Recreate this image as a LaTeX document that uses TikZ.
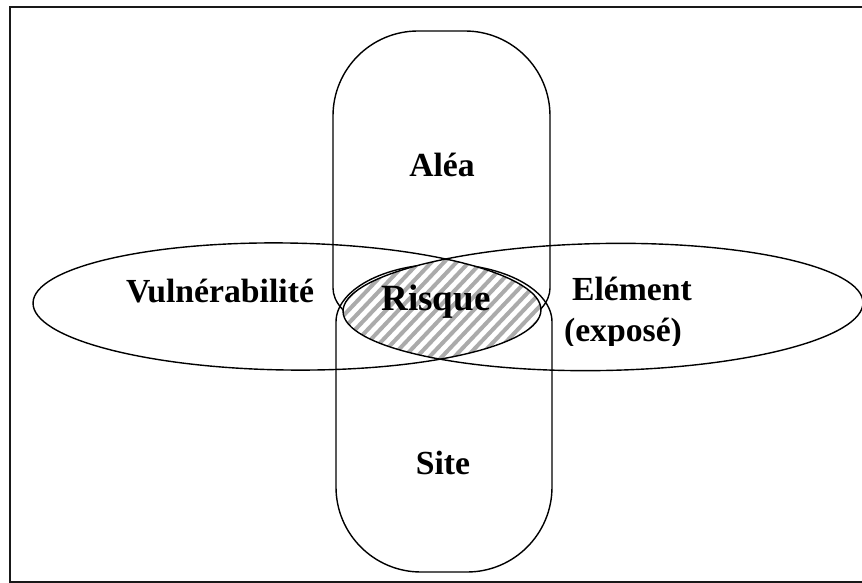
\documentclass[tikz,border=0pt]{standalone}
\usepackage{fontspec}
\setmainfont{Liberation Serif}
\tikzset{
  outline/.style={line width=1.4pt, black},
  frameline/.style={line width=2pt, black!90},
  stripe/.style={line width=4pt, black!33},
  lbl/.style={font=\fontsize{33.7}{40}\selectfont\bfseries, inner sep=0pt, anchor=base},
  biglbl/.style={font=\fontsize{37}{44}\selectfont\bfseries, inner sep=0pt, anchor=base},
  leftoval/.style={rotate around={-0.8:(287,306.5)}},
  rightoval/.style={rotate around={1:(603,307)}}
}
\begin{document}
\begin{tikzpicture}[x=1pt, y=-1pt]
\useasboundingbox (0,0) rectangle (862,583);
\clip (0,0) rectangle (862,583);

% outer frame (runs off the right edge)
\draw[frameline] (9.5,7) rectangle (880,582);

% upper rounded column
\draw[outline] (333,288) -- (333,116)
  arc[start angle=180, end angle=270, radius=85] -- (465,31)
  arc[start angle=270, end angle=360, radius=85] -- (550,288)
  arc[start angle=0, end angle=180, x radius=108.5, y radius=52] -- cycle;

% lower rounded column
\draw[outline] (336,322)
  arc[start angle=180, end angle=360, x radius=108, y radius=58] -- (552,487)
  arc[start angle=0, end angle=90, radius=85] -- (421,572)
  arc[start angle=90, end angle=180, radius=85] -- cycle;

% hatched overlap of the two horizontal ellipses
\begin{scope}
  \clip[leftoval] (287,306.5) ellipse[x radius=254, y radius=63.5];
  \clip[rightoval] (603,307) ellipse[x radius=260, y radius=63.5];
  \fill[white] (330,230) rectangle (560,380);
  \foreach \k in {-30,...,30}
    \draw[stripe] ({441+\k*12.5-90},400) -- ({441+\k*12.5+90},210);
\end{scope}

% horizontal ellipses
\draw[outline, leftoval] (287,306.5) ellipse[x radius=254, y radius=63.5];
\draw[outline, rightoval] (603,307) ellipse[x radius=260, y radius=63.5];

% labels
\node[lbl] (alea) at (442,176) {Aléa};
\node[lbl] (vuln) at (220,302) {Vulnérabilité};
\node[biglbl] (risque) at (436,310) {Risque};
\node[lbl] (elem) at (632,300) {Elément};
\begin{scope}
  \clip (540,300) rectangle (720,345.5);
  \node[lbl] (expo) at (623,341) {(exposé)};
\end{scope}
\node[lbl] (site) at (443,474) {Site};
\end{tikzpicture}
\end{document}
